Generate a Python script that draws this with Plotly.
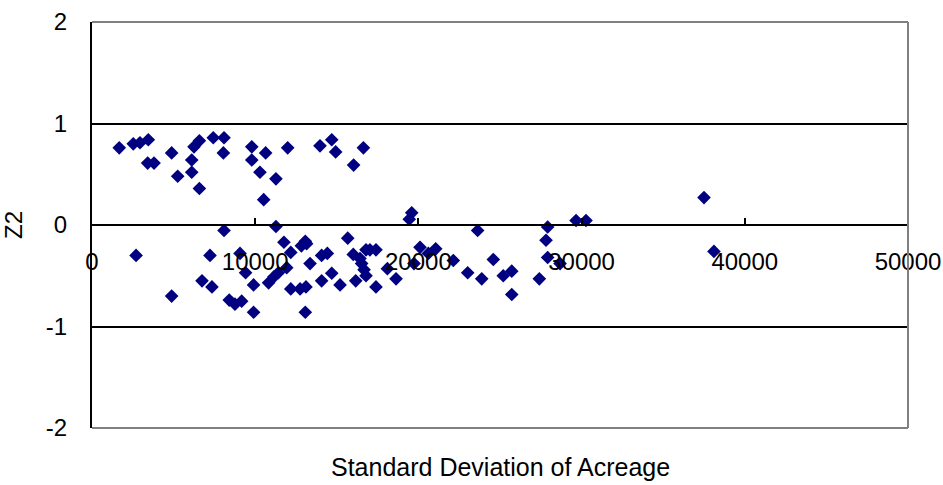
import plotly.graph_objects as go

# Standard deviation of acreage vs. second standardized score (Z2)
sd_acreage = [
    1670, 2530, 2940, 3450, 3410, 3800, 4880, 5250, 6110, 6110,
    6250, 6580, 6580, 7430, 8090, 8050, 9790, 9790, 10640, 10290,
    11270, 11990, 10520, 8090, 11270, 13970, 14690, 14930, 16630, 16030,
    19590, 19440, 23630, 2700, 4880, 7230, 6740, 7350, 8410, 8760,
    9170, 9070, 9410, 9900, 9900, 10820, 11150, 11420, 11930, 11760,
    12180, 12830, 13070, 12180, 12750, 13110, 13070, 13150, 13360, 14070,
    14420, 14070, 14690, 15200, 15670, 16010, 16420, 16520, 16670, 16790,
    16160, 16790, 17030, 17400, 17400, 18100, 18630, 20100, 19730, 20610,
    21060, 22140, 23020, 23880, 24590, 25200, 25720, 25720, 27410, 27920,
    27820, 27920, 28680, 29660, 30270, 37500, 38110,
]
z2 = [
    0.76, 0.80, 0.81, 0.84, 0.61, 0.61, 0.71, 0.48, 0.64, 0.52,
    0.77, 0.83, 0.36, 0.86, 0.86, 0.71, 0.77, 0.64, 0.71, 0.52,
    0.455, 0.76, 0.25, -0.054, -0.015, 0.78, 0.84, 0.72, 0.76, 0.59,
    0.12, 0.057, -0.054, -0.30, -0.70, -0.30, -0.55, -0.61, -0.74, -0.78,
    -0.75, -0.28, -0.47, -0.59, -0.86, -0.57, -0.51, -0.47, -0.42, -0.17,
    -0.27, -0.205, -0.16, -0.63, -0.63, -0.61, -0.86, -0.185, -0.38, -0.30,
    -0.28, -0.55, -0.475, -0.59, -0.13, -0.29, -0.33, -0.38, -0.44, -0.50,
    -0.55, -0.245, -0.245, -0.245, -0.61, -0.43, -0.53, -0.22, -0.38, -0.28,
    -0.235, -0.35, -0.47, -0.53, -0.34, -0.50, -0.455, -0.685, -0.53, -0.02,
    -0.15, -0.32, -0.38, 0.044, 0.044, 0.27, -0.26,
]

x_ticks = [0, 10000, 20000, 30000, 40000, 50000]
y_ticks = [-2, -1, 0, 1, 2]

FONT = "Liberation Sans, Arial, sans-serif"

fig = go.Figure(
    go.Scatter(
        x=sd_acreage,
        y=z2,
        mode="markers",
        marker=dict(symbol="diamond", size=10.5, color="#000080", line=dict(width=0)),
        showlegend=False,
    )
)

fig.update_layout(
    width=943,
    height=485,
    margin=dict(l=92, r=35, t=22, b=57, autoexpand=False),
    paper_bgcolor="white",
    plot_bgcolor="white",
    font=dict(family=FONT, size=24, color="black"),
    xaxis=dict(
        range=[0, 50000],
        tickvals=x_ticks,
        ticktext=[str(v) for v in x_ticks],
        anchor="free",
        position=0.5,
        automargin=False,
        showline=True,
        linecolor="black",
        linewidth=2,
        ticks="inside",
        ticklen=6,
        tickwidth=2,
        tickcolor="black",
        ticklabelstandoff=15,
        showgrid=False,
        zeroline=False,
    ),
    yaxis=dict(
        range=[-2, 2],
        tickvals=y_ticks,
        ticktext=[str(v) for v in y_ticks],
        automargin=False,
        showline=True,
        linecolor="black",
        linewidth=2,
        ticks="",
        ticklabelstandoff=18,
        showgrid=True,
        gridcolor="black",
        gridwidth=2,
        zeroline=False,
        title=dict(text="Z2", standoff=22, font=dict(size=24)),
    ),
    shapes=[
        # gray frame on top, right and bottom of the plotting area
        dict(type="line", xref="paper", yref="paper", x0=0, x1=1, y0=1, y1=1,
             line=dict(color="#808080", width=2)),
        dict(type="line", xref="paper", yref="paper", x0=1, x1=1, y0=0, y1=1,
             line=dict(color="#808080", width=2)),
        dict(type="line", xref="paper", yref="paper", x0=0, x1=1, y0=0, y1=0,
             line=dict(color="#808080", width=2)),
    ],
    annotations=[
        dict(text="Standard Deviation of Acreage", xref="paper", yref="paper",
             x=0.5, y=0, yshift=-39, xanchor="center", yanchor="middle",
             showarrow=False, font=dict(size=25)),
    ],
)

fig.write_html("out.html")
